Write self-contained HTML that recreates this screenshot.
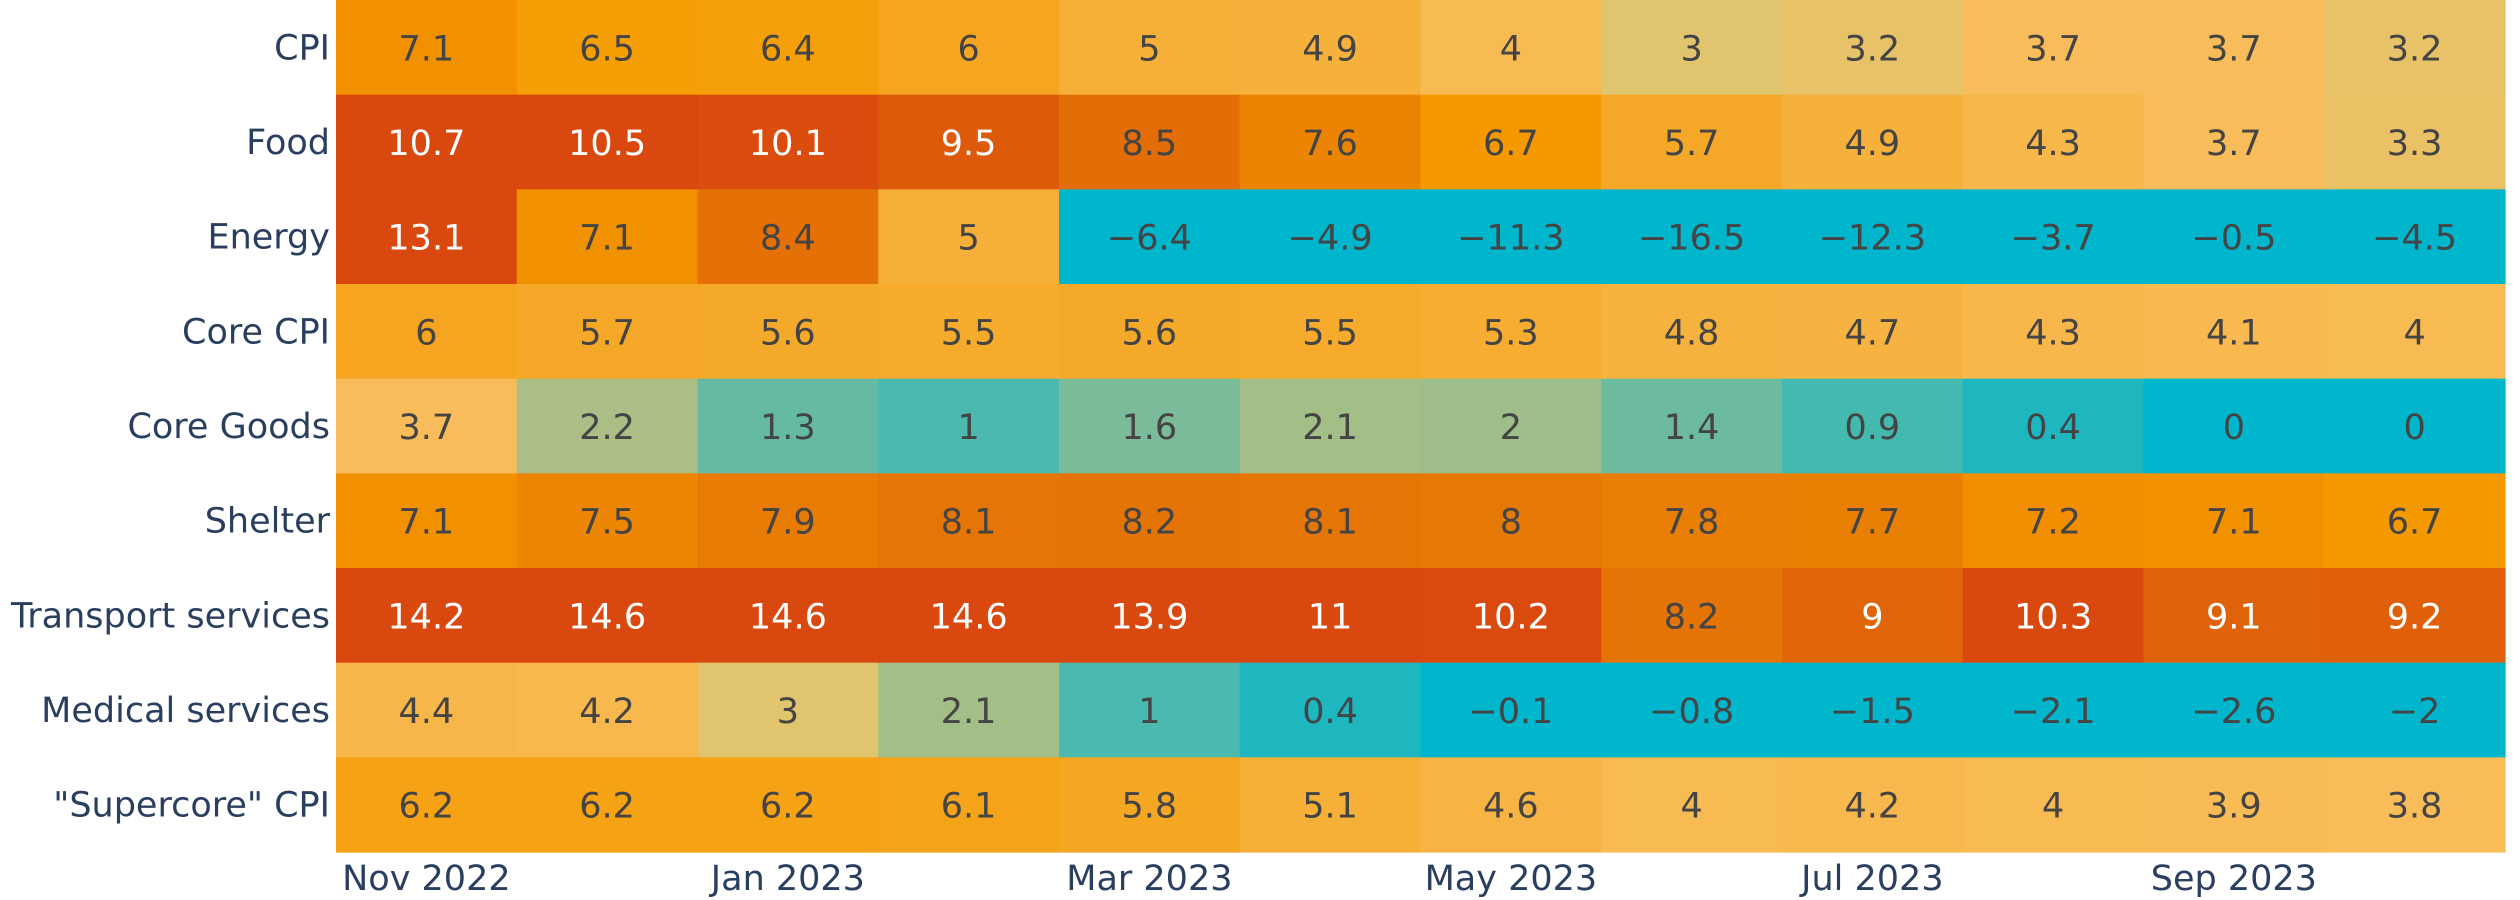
<!DOCTYPE html>
<html><head><meta charset="utf-8"><style>
html,body{margin:0;padding:0;background:#fff;width:2520px;height:900px;overflow:hidden}
svg{display:block}
text{font-family:"DejaVu Sans","Liberation Sans",sans-serif}
</style></head><body>
<svg id="s" width="2520" height="900" xmlns="http://www.w3.org/2000/svg"></svg>
<script>
const rows=[
["CPI",[7.1,6.5,6.4,6,5,4.9,4,3,3.2,3.7,3.7,3.2]],
["Food",[10.7,10.5,10.1,9.5,8.5,7.6,6.7,5.7,4.9,4.3,3.7,3.3]],
["Energy",[13.1,7.1,8.4,5,-6.4,-4.9,-11.3,-16.5,-12.3,-3.7,-0.5,-4.5]],
["Core CPI",[6,5.7,5.6,5.5,5.6,5.5,5.3,4.8,4.7,4.3,4.1,4]],
["Core Goods",[3.7,2.2,1.3,1,1.6,2.1,2,1.4,0.9,0.4,0,0]],
["Shelter",[7.1,7.5,7.9,8.1,8.2,8.1,8,7.8,7.7,7.2,7.1,6.7]],
["Transport services",[14.2,14.6,14.6,14.6,13.9,11,10.2,8.2,9,10.3,9.1,9.2]],
["Medical services",[4.4,4.2,3,2.1,1,0.4,-0.1,-0.8,-1.5,-2.1,-2.6,-2]],
["\"Supercore\" CPI",[6.2,6.2,6.2,6.1,5.8,5.1,4.6,4,4.2,4,3.9,3.8]]];
const cs=[[0,[0,182,204]],[1,[75,185,173]],[2,[157,189,139]],[3,[224,196,110]],[3.7,[248,189,90]],[5,[246,176,58]],[6,[245,165,31]],[6.6,[245,156,0]],[7.1,[242,145,0]],[8,[230,120,5]],[9.5,[221,90,10]],[10.3,[217,72,15]]];
function col(v){if(v<=0)return "rgb(0,182,204)";if(v>=10.3)return "rgb(217,72,15)";
for(let i=1;i<cs.length;i++){if(v<=cs[i][0]){const a=cs[i-1],b=cs[i],t=(v-a[0])/(b[0]-a[0]);
return "rgb("+a[1].map((c,k)=>Math.round(c+(b[1][k]-c)*t)).join(",")+")";}}}
const L=336,R=2505,H=852,cw=(R-L)/12,rh=H/9;let h="";
rows.forEach((r,i)=>{const y=i*rh;
h+=`<text x="330" y="${y+rh/2+12}" text-anchor="end" font-size="35" fill="#2a3f5f">${r[0].replace(/"/g,"&quot;")}</text>`;
r[1].forEach((v,j)=>{const x=L+j*cw;
h+=`<rect x="${x}" y="${y}" width="${cw+0.6}" height="${rh+0.6}" fill="${col(v)}"/>`;
h+=`<text x="${x+cw/2}" y="${y+rh/2+13}" text-anchor="middle" font-size="35" fill="${v>8.8?'#fff':'#444'}">${String(v).replace('-','\u2212')}</text>`;});});
["Nov 2022","Jan 2023","Mar 2023","May 2023","Jul 2023","Sep 2023"].forEach((t,k)=>{
h+=`<text x="${L+(2*k+0.5)*cw}" y="890" text-anchor="middle" font-size="35" fill="#2a3f5f">${t}</text>`;});
document.getElementById("s").innerHTML=h;
</script>
</body></html>
